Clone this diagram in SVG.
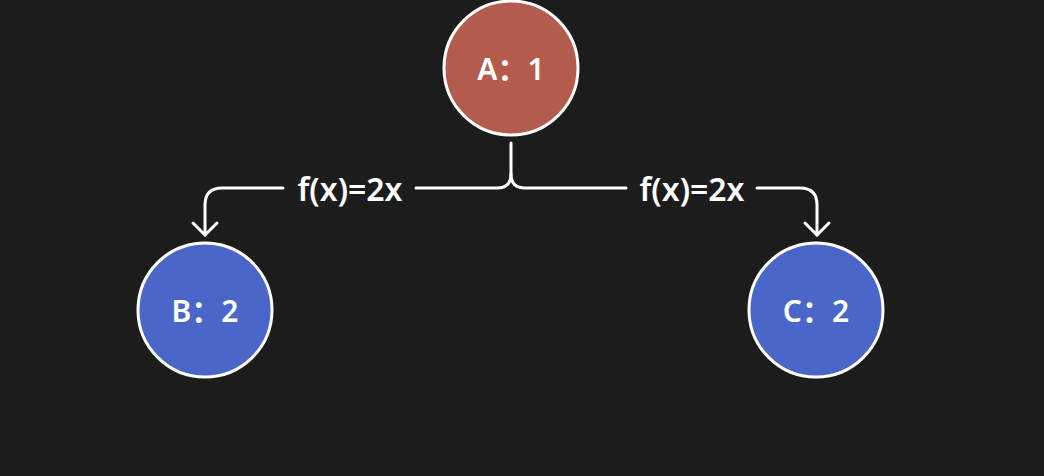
<svg xmlns="http://www.w3.org/2000/svg" width="1044" height="476" viewBox="0 0 1044 476">
<defs>
<style>
.bg{fill:#1c1c1c}
.node{stroke:#ffffff;stroke-width:3}
.red{fill:#b55b4d}
.blue{fill:#4a66c9}
.lbl{fill:#ffffff;font-family:"Noto Sans","Noto Sans CJK SC",sans-serif;font-weight:600;font-size:30px;text-anchor:middle}
.elbl{font-size:32px}
.edge{fill:none;stroke:#ffffff;stroke-width:3;stroke-linecap:round;stroke-linejoin:round}
</style>
</defs>
<rect class="bg" width="1044" height="476"/>
<g id="connectors">
<path class="edge" d="M511 143 V174 Q511 188 497 188 H416"/>
<path class="edge" d="M283 188 H222 Q205 188 205 205 V235"/>
<path class="edge" d="M193 223 L205 235 L217 223"/>
<path class="edge" d="M511 174 Q511 188 525 188 H626"/>
<path class="edge" d="M757 188 H800 Q817 188 817 205 V235"/>
<path class="edge" d="M805 223 L817 235 L829 223"/>
<text class="lbl elbl" x="350" y="201">f(x)=2x</text>
<text class="lbl elbl" x="692" y="201">f(x)=2x</text>
</g>
<g id="A">
<circle class="node red" cx="511" cy="68" r="67"/>
<text class="lbl" x="511" y="80">A：1</text>
</g>
<g id="B">
<circle class="node blue" cx="205" cy="310" r="67"/>
<text class="lbl" x="205" y="322">B：2</text>
</g>
<g id="C">
<circle class="node blue" cx="816" cy="310" r="67"/>
<text class="lbl" x="816" y="322">C：2</text>
</g>
</svg>
